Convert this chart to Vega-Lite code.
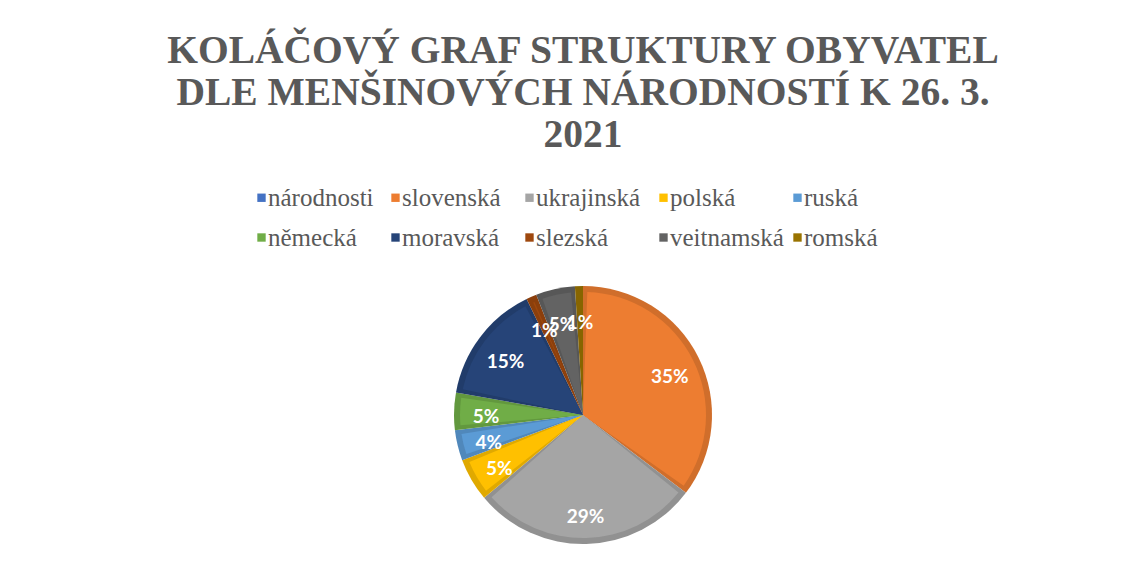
{
  "$schema": "https://vega.github.io/schema/vega-lite/v6.json",
  "autosize": {"type": "none"},
  "padding": {"left": 19, "top": 280, "right": 0, "bottom": 20},
  "width": 1128,
  "height": 270,
  "background": "white",
  "title": {
    "text": ["KOLÁČOVÝ GRAF STRUKTURY OBYVATEL", "DLE MENŠINOVÝCH NÁRODNOSTÍ K 26. 3.", "2021"],
    "anchor": "middle",
    "frame": "group",
    "font": "Liberation Serif",
    "fontSize": 39.5,
    "fontWeight": "bold",
    "color": "#595959",
    "lineHeight": 42,
    "offset": 30
  },
  "data": {
    "values": [
      {"poradi": 0, "narodnost": "národnosti", "podil": 0},
      {"poradi": 1, "narodnost": "slovenská", "podil": 0.353},
      {"poradi": 2, "narodnost": "ukrajinská", "podil": 0.286},
      {"poradi": 3, "narodnost": "polská", "podil": 0.054},
      {"poradi": 4, "narodnost": "ruská", "podil": 0.038},
      {"poradi": 5, "narodnost": "německá", "podil": 0.047},
      {"poradi": 6, "narodnost": "moravská", "podil": 0.150},
      {"poradi": 7, "narodnost": "slezská", "podil": 0.013},
      {"poradi": 8, "narodnost": "veitnamská", "podil": 0.049},
      {"poradi": 9, "narodnost": "romská", "podil": 0.010}
    ]
  },
  "layer": [
    {
      "mark": {"type": "arc", "outerRadius": 129, "stroke": null},
      "encoding": {
        "theta": {"field": "podil", "type": "quantitative", "stack": true},
        "order": {"field": "poradi", "type": "quantitative"},
        "color": {
          "field": "narodnost",
          "type": "nominal",
          "legend": null,
          "scale": {
            "domain": ["národnosti", "slovenská", "ukrajinská", "polská", "ruská", "německá", "moravská", "slezská", "veitnamská", "romská"],
            "range": ["#3C64AC", "#D06E2B", "#919191", "#E0A900", "#5088BB", "#62983E", "#213C6A", "#8B3F0C", "#575757", "#876500"]
          }
        }
      }
    },
    {
      "mark": {"type": "arc", "outerRadius": 123, "padAngle": 0.07, "stroke": null},
      "encoding": {
        "theta": {"field": "podil", "type": "quantitative", "stack": true},
        "order": {"field": "poradi", "type": "quantitative"},
        "color": {
          "field": "narodnost",
          "type": "nominal",
          "scale": {
            "domain": ["národnosti", "slovenská", "ukrajinská", "polská", "ruská", "německá", "moravská", "slezská", "veitnamská", "romská"],
            "range": ["#4472C4", "#ED7D31", "#A5A5A5", "#FFC000", "#5B9BD5", "#70AD47", "#264478", "#9E480E", "#636363", "#997300"]
          },
          "legend": {
            "title": null,
            "orient": "none",
            "legendX": 230,
            "legendY": -95,
            "direction": "horizontal",
            "columns": 5,
            "gridAlign": "all",
            "symbolType": "square",
            "symbolSize": 70,
            "symbolStrokeWidth": 0,
            "labelFont": "Liberation Serif",
            "labelFontSize": 25,
            "labelColor": "#595959",
            "labelOffset": -6,
            "columnPadding": 1,
            "rowPadding": 14,
            "padding": 0,
            "labelLimit": 300
          }
        }
      }
    },
    {
      "transform": [{"filter": "datum.podil > 0"}],
      "mark": {"type": "text", "radius": 97, "dy": 5, "font": "Lato", "fontSize": 19, "fontWeight": "bold", "fill": "white"},
      "encoding": {
        "theta": {"field": "podil", "type": "quantitative", "stack": true},
        "order": {"field": "poradi", "type": "quantitative"},
        "text": {"field": "podil", "type": "quantitative", "format": ".0%"}
      }
    }
  ],
  "resolve": {"scale": {"color": "independent"}},
  "config": {"view": {"stroke": null}}
}
